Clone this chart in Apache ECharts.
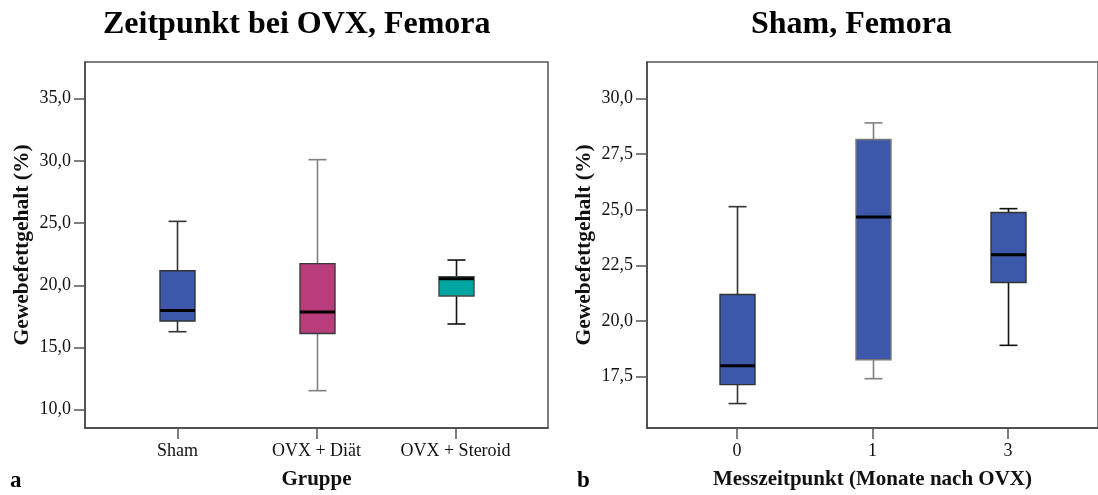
<!DOCTYPE html>
<html>
<head>
<meta charset="utf-8">
<script src="https://cdn.jsdelivr.net/npm/echarts@6/dist/echarts.min.js"></script>
<style>html,body{margin:0;padding:0;background:#fff;}#c{width:1098px;height:495px;}</style>
</head>
<body>
<div id="c"></div>
<script>
// ---- data (left panel: groups) ----
const groupLabels = ['Sham', 'OVX + Diät', 'OVX + Steroid'];
const groupMin    = [16.27, 11.53, 16.89];
const groupQ1     = [17.13, 16.13, 19.14];
const groupMedian = [17.98, 17.85, 20.53];
const groupQ3     = [21.17, 21.74, 20.69];
const groupMax    = [25.14, 30.10, 22.03];
const leftYTicks  = [10, 15, 20, 25, 30, 35];

// ---- data (right panel: time points, Sham) ----
const timeLabels  = ['0', '1', '3'];
const timeMin     = [16.28, 17.40, 18.90];
const timeQ1      = [17.13, 18.25, 21.73];
const timeMedian  = [17.98, 24.68, 22.98];
const timeQ3      = [21.19, 28.16, 24.88];
const timeMax     = [25.14, 28.91, 25.05];
const rightYTicks = [17.5, 20, 22.5, 25, 27.5, 30];

const leftFill   = ['#3e58a9', '#b93d7b', '#00a6a1'];
const leftWhisk  = ['#333333', '#808080', '#111111'];
const leftBorder = ['#333333', '#3a3a3a', '#444444'];
const rightFill   = ['#3e58a9', '#3e58a9', '#3e58a9'];
const rightWhisk  = ['#333333', '#808080', '#111111'];
const rightBorder = ['#333333', '#777777', '#333333'];

function build(mins, q1, med, q3, maxs) {
  return mins.map((m, i) => [i, m, q1[i], med[i], q3[i], maxs[i]]);
}

function makeRender(fills, whisk, border) {
  return function (params, api) {
    const x = api.value(0);
    const i = params.dataIndex;
    const lo = api.coord([x, api.value(1)]);
    const b1 = api.coord([x, api.value(2)]);
    const md = api.coord([x, api.value(3)]);
    const b3 = api.coord([x, api.value(4)]);
    const hi = api.coord([x, api.value(5)]);
    const cx = Math.round(lo[0]) + 0.5;
    const bw = 35, cw = 18;
    const ws = { stroke: whisk[i], lineWidth: 1.6 };
    return {
      type: 'group',
      children: [
        { type: 'line', shape: { x1: cx, y1: hi[1], x2: cx, y2: b3[1] }, style: ws },
        { type: 'line', shape: { x1: cx, y1: b1[1], x2: cx, y2: lo[1] }, style: ws },
        { type: 'line', shape: { x1: cx - cw / 2, y1: hi[1], x2: cx + cw / 2, y2: hi[1] }, style: ws },
        { type: 'line', shape: { x1: cx - cw / 2, y1: lo[1], x2: cx + cw / 2, y2: lo[1] }, style: ws },
        { type: 'rect', shape: { x: cx - bw / 2, y: b3[1], width: bw, height: b1[1] - b3[1] },
          style: { fill: fills[i], stroke: border[i], lineWidth: 1.4 } },
        { type: 'line', shape: { x1: cx - bw / 2, y1: md[1], x2: cx + bw / 2, y2: md[1] },
          style: { stroke: '#000', lineWidth: 3 } }
      ]
    };
  };
}

const serif = 'Liberation Serif';
const fmtY = v => v.toFixed(1).replace('.', ',');

function xAxisDef(gridIndex, labels, name) {
  return {
    type: 'value', gridIndex: gridIndex, min: -0.665, max: 2.665,
    splitLine: { show: false },
    axisLine: { show: true, onZero: false, lineStyle: { color: '#444', width: 1.5 } },
    axisTick: { show: true, length: 11, customValues: [0, 1, 2], lineStyle: { color: '#555', width: 1.5 } },
    axisLabel: { customValues: [0, 1, 2], formatter: v => labels[Math.round(v)], margin: 14,
      fontFamily: serif, fontSize: 18, color: '#111' },
    name: name, nameLocation: 'middle', nameGap: 41,
    nameTextStyle: { fontFamily: serif, fontSize: 21, fontWeight: 'bold', color: '#111' }
  };
}
function yAxisDef(gridIndex, min, max, ticks) {
  return {
    type: 'value', gridIndex: gridIndex, min: min, max: max,
    splitLine: { show: false },
    axisLine: { show: true, onZero: false, lineStyle: { color: '#444', width: 1.5 } },
    axisTick: { show: true, length: 11, customValues: ticks, lineStyle: { color: '#555', width: 1.5 } },
    axisLabel: { customValues: ticks, formatter: fmtY, margin: 14,
      fontFamily: serif, fontSize: 18, color: '#111' },
    name: 'Gewebefettgehalt (%)', nameLocation: 'middle', nameGap: 52,
    nameTextStyle: { fontFamily: serif, fontSize: 21.5, fontWeight: 'bold', color: '#111' }
  };
}

const chart = echarts.init(document.getElementById('c'), null, { renderer: 'canvas' });
chart.setOption({
  animation: false,
  backgroundColor: '#fff',
  title: [
    { text: 'Zeitpunkt bei OVX, Femora', left: 98, top: 4,
      textStyle: { fontFamily: serif, fontSize: 32, fontWeight: 'bold', color: '#000' } },
    { text: 'Sham, Femora', left: 746, top: 4,
      textStyle: { fontFamily: serif, fontSize: 32, fontWeight: 'bold', color: '#000' } },
    { text: 'a', left: 5, top: 465,
      textStyle: { fontFamily: serif, fontSize: 23, fontWeight: 'bold', color: '#000' } },
    { text: 'b', left: 572, top: 465,
      textStyle: { fontFamily: serif, fontSize: 23, fontWeight: 'bold', color: '#000' } }
  ],
  grid: [
    { left: 85, top: 62, width: 463, height: 366, show: true, borderColor: '#555', borderWidth: 1.5, backgroundColor: '#fff' },
    { left: 647, top: 62, width: 463, height: 366, show: true, borderColor: '#555', borderWidth: 1.5, backgroundColor: '#fff' }
  ],
  xAxis: [
    xAxisDef(0, groupLabels, 'Gruppe'),
    xAxisDef(1, timeLabels, 'Messzeitpunkt (Monate nach OVX)')
  ],
  yAxis: [
    yAxisDef(0, 8.53, 37.95, leftYTicks),
    yAxisDef(1, 15.18, 31.65, rightYTicks)
  ],
  series: [
    { type: 'custom', xAxisIndex: 0, yAxisIndex: 0,
      encode: { x: 0, y: [1, 2, 3, 4, 5] },
      data: build(groupMin, groupQ1, groupMedian, groupQ3, groupMax),
      renderItem: makeRender(leftFill, leftWhisk, leftBorder) },
    { type: 'custom', xAxisIndex: 1, yAxisIndex: 1,
      encode: { x: 0, y: [1, 2, 3, 4, 5] },
      data: build(timeMin, timeQ1, timeMedian, timeQ3, timeMax),
      renderItem: makeRender(rightFill, rightWhisk, rightBorder) }
  ]
});
</script>
</body>
</html>
